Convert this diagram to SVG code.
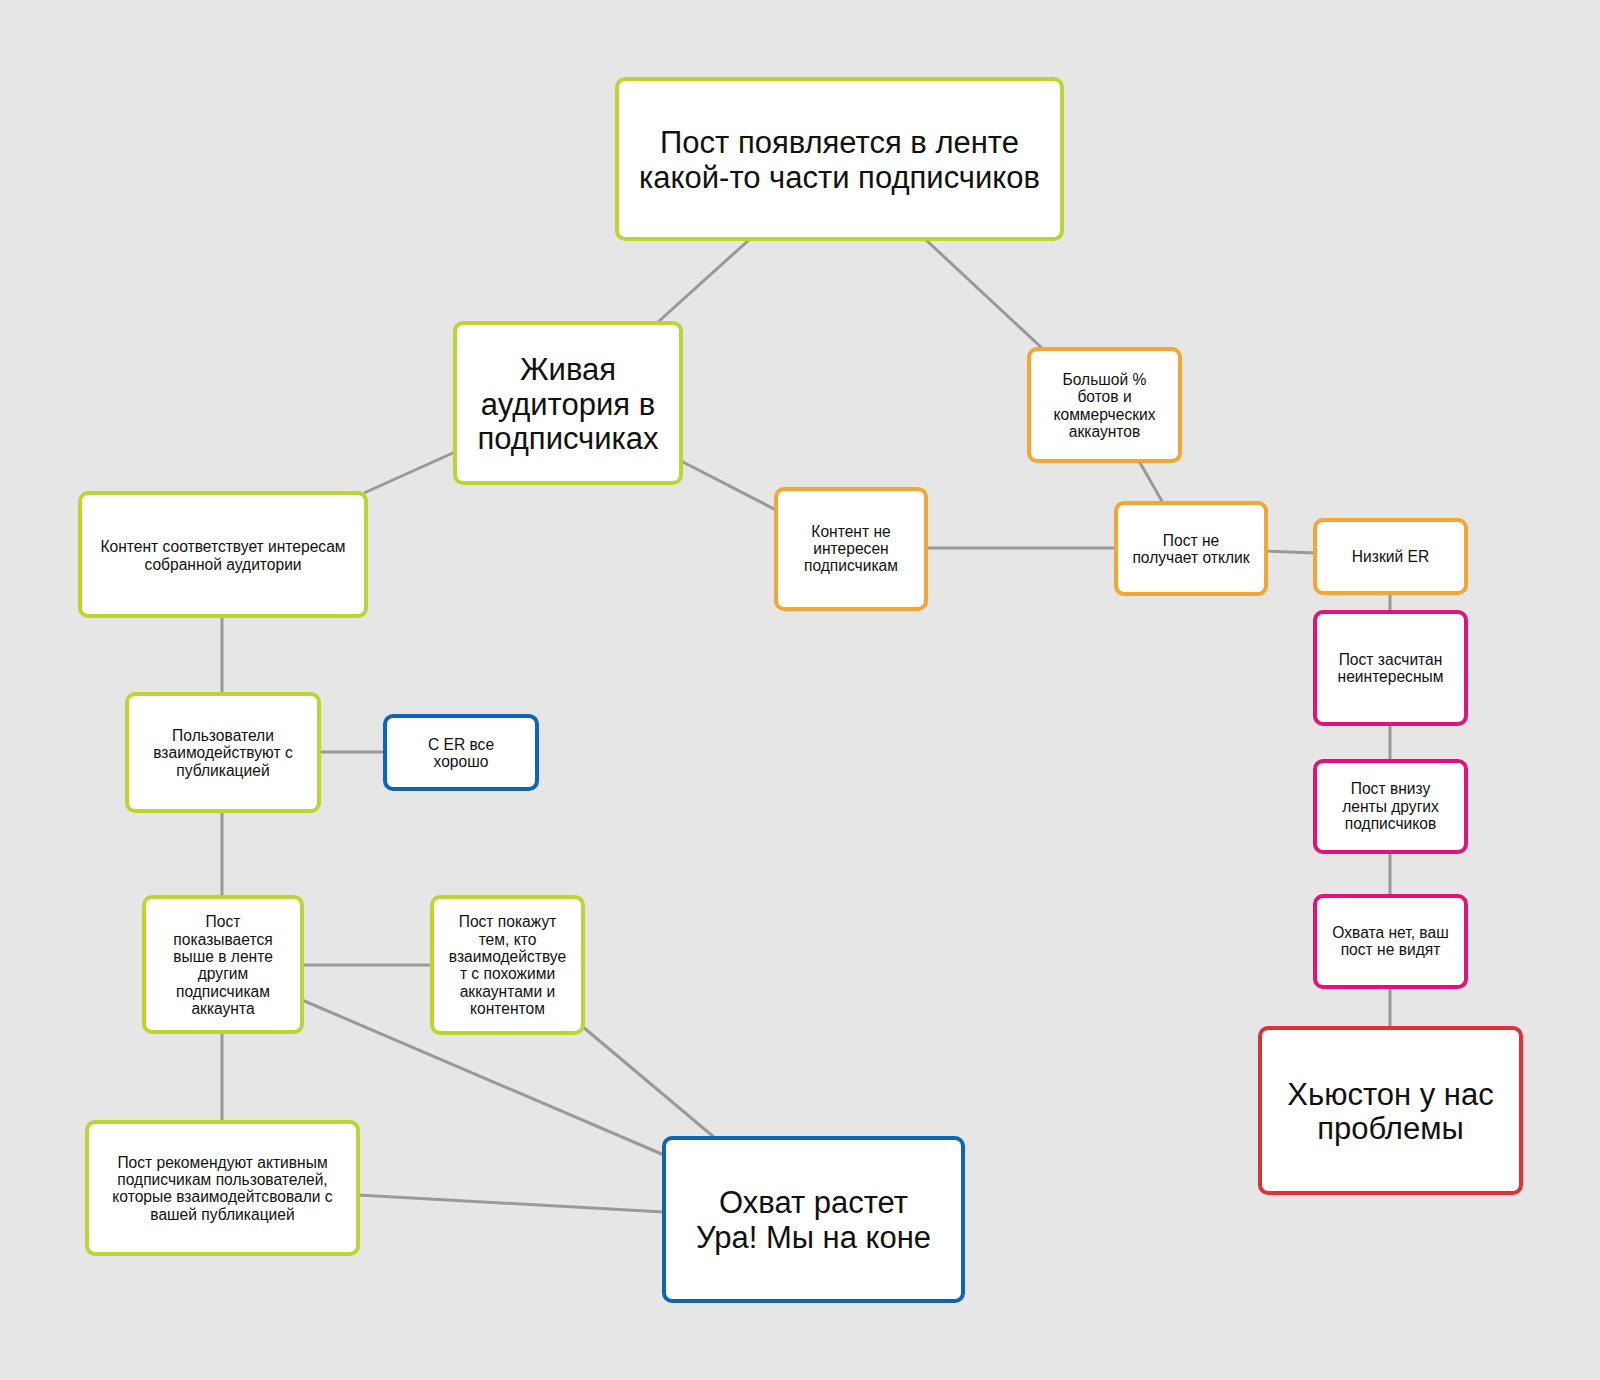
<svg xmlns="http://www.w3.org/2000/svg" width="1600" height="1380" viewBox="0 0 1600 1380">
<style>
.bg{fill:#e6e6e6}
.n rect{fill:#ffffff;stroke-width:4}
.g rect{stroke:#bed432}
.o rect{stroke:#f3a634}
.b rect{stroke:#0e66b2}
.p rect{stroke:#e0137a}
.r rect{stroke:#de3238}
.n text{font-family:"Liberation Sans",Arial,sans-serif;fill:#111111;text-anchor:middle}
.s text{font-size:15.6px}
.l text{font-size:31px}
#edges line{stroke:#999999;stroke-width:3;fill:none}
</style>
<rect class="bg" x="0" y="0" width="1600" height="1380"/>
<g id="edges">
<line x1="750" y1="239" x2="658" y2="322"/>
<line x1="925" y1="239" x2="1043" y2="349"/>
<line x1="455" y1="452" x2="364" y2="493"/>
<line x1="681" y1="461" x2="776" y2="510"/>
<line x1="926" y1="548" x2="1116" y2="548"/>
<line x1="1139" y1="461" x2="1163" y2="503"/>
<line x1="1266" y1="551" x2="1315" y2="553"/>
<line x1="1390" y1="593" x2="1390" y2="612"/>
<line x1="1390" y1="724" x2="1390" y2="761"/>
<line x1="1390" y1="852" x2="1390" y2="896"/>
<line x1="1390" y1="987" x2="1390" y2="1028"/>
<line x1="222" y1="616" x2="222" y2="694"/>
<line x1="319" y1="752" x2="385" y2="752"/>
<line x1="222" y1="811" x2="222" y2="897"/>
<line x1="302" y1="965" x2="432" y2="965"/>
<line x1="222" y1="1032" x2="222" y2="1122"/>
<line x1="302" y1="1000" x2="664" y2="1155"/>
<line x1="583" y1="1027" x2="715" y2="1138"/>
<line x1="358" y1="1195" x2="664" y2="1212"/>
</g>
<g id="top" class="n g l">
<rect x="617" y="79" width="445" height="160" rx="8"/>
<text x="839.5" y="153">Пост появляется в ленте</text>
<text x="839.5" y="188">какой-то части подписчиков</text>
</g>
<g id="live" class="n g l">
<rect x="455" y="323" width="226" height="160" rx="8"/>
<text x="568" y="380">Живая</text>
<text x="568" y="414.5">аудитория в</text>
<text x="568" y="449">подписчиках</text>
</g>
<g id="content-match" class="n g s">
<rect x="80" y="493" width="286" height="123" rx="8"/>
<text x="223" y="552">Контент соответствует интересам</text>
<text x="223" y="569.5">собранной аудитории</text>
</g>
<g id="content-not" class="n o s">
<rect x="776" y="489" width="150" height="120" rx="8"/>
<text x="851" y="537">Контент не</text>
<text x="851" y="554">интересен</text>
<text x="851" y="571">подписчикам</text>
</g>
<g id="bots" class="n o s">
<rect x="1029" y="349" width="151" height="112" rx="8"/>
<text x="1104.5" y="385">Большой %</text>
<text x="1104.5" y="402">ботов и</text>
<text x="1104.5" y="420">коммерческих</text>
<text x="1104.5" y="437">аккаунтов</text>
</g>
<g id="no-response" class="n o s">
<rect x="1116" y="503" width="150" height="91" rx="8"/>
<text x="1191" y="546">Пост не</text>
<text x="1191" y="563">получает отклик</text>
</g>
<g id="low-er" class="n o s">
<rect x="1315" y="520" width="151" height="73" rx="8"/>
<text x="1390.5" y="562">Низкий ER</text>
</g>
<g id="uninteresting" class="n p s">
<rect x="1315" y="612" width="151" height="112" rx="8"/>
<text x="1390.5" y="665">Пост засчитан</text>
<text x="1390.5" y="682">неинтересным</text>
</g>
<g id="bottom-feed" class="n p s">
<rect x="1315" y="761" width="151" height="91" rx="8"/>
<text x="1390.5" y="794">Пост внизу</text>
<text x="1390.5" y="811.5">ленты других</text>
<text x="1390.5" y="829">подписчиков</text>
</g>
<g id="no-reach" class="n p s">
<rect x="1315" y="896" width="151" height="91" rx="8"/>
<text x="1390.5" y="938">Охвата нет, ваш</text>
<text x="1390.5" y="955">пост не видят</text>
</g>
<g id="houston" class="n r l">
<rect x="1260" y="1028" width="261" height="165" rx="8"/>
<text x="1390.5" y="1105">Хьюстон у нас</text>
<text x="1390.5" y="1139">проблемы</text>
</g>
<g id="users-interact" class="n g s">
<rect x="127" y="694" width="192" height="117" rx="8"/>
<text x="223" y="741">Пользователи</text>
<text x="223" y="758">взаимодействуют с</text>
<text x="223" y="776">публикацией</text>
</g>
<g id="er-ok" class="n b s">
<rect x="385" y="716" width="152" height="73" rx="8"/>
<text x="461" y="750">С ER все</text>
<text x="461" y="767">хорошо</text>
</g>
<g id="shown-higher" class="n g s">
<rect x="144" y="897" width="158" height="135" rx="8"/>
<text x="223" y="927">Пост</text>
<text x="223" y="944.5">показывается</text>
<text x="223" y="962">выше в ленте</text>
<text x="223" y="979">другим</text>
<text x="223" y="996.5">подписчикам</text>
<text x="223" y="1014">аккаунта</text>
</g>
<g id="shown-similar" class="n g s">
<rect x="432" y="897" width="151" height="136" rx="8"/>
<text x="507.5" y="927">Пост покажут</text>
<text x="507.5" y="944.5">тем, кто</text>
<text x="507.5" y="962">взаимодействуе</text>
<text x="507.5" y="979">т с похожими</text>
<text x="507.5" y="996.5">аккаунтами и</text>
<text x="507.5" y="1014">контентом</text>
</g>
<g id="recommended" class="n g s">
<rect x="87" y="1122" width="271" height="132" rx="8"/>
<text x="222.5" y="1168">Пост рекомендуют активным</text>
<text x="222.5" y="1185">подписчикам пользователей,</text>
<text x="222.5" y="1202">которые взаимодейтсвовали с</text>
<text x="222.5" y="1220">вашей публикацией</text>
</g>
<g id="reach-grows" class="n b l">
<rect x="664" y="1138" width="299" height="163" rx="8"/>
<text x="813.5" y="1213">Охват растет</text>
<text x="813.5" y="1248">Ура! Мы на коне</text>
</g>
</svg>
